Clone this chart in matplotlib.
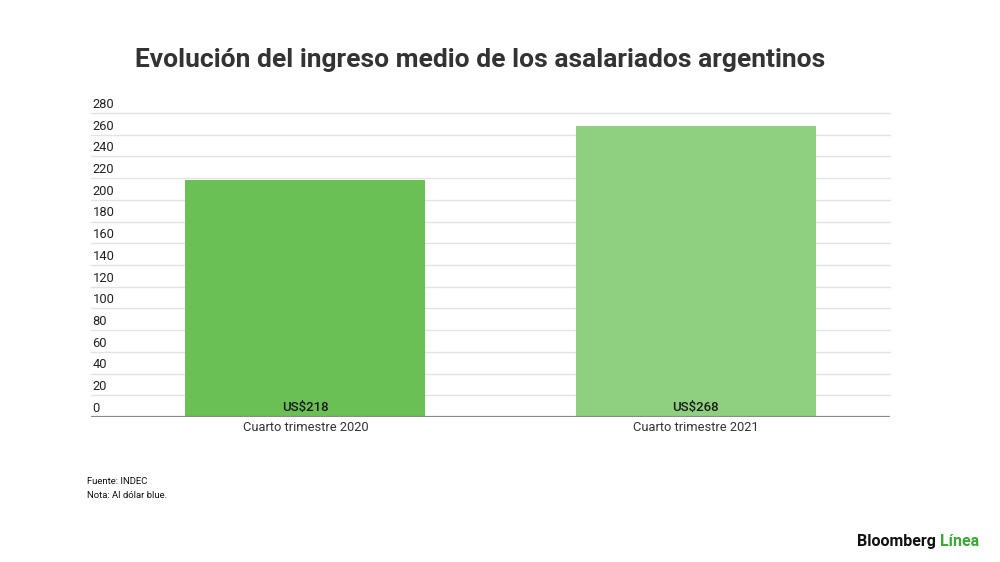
import matplotlib.pyplot as plt
import matplotlib.transforms as mtransforms

categorias = ['Cuarto trimestre 2020', 'Cuarto trimestre 2021']
ingreso = [218, 268]
etiquetas = ['US$218', 'US$268']
colores = ['#6abf55', '#8fcf80']
yticks = list(range(0, 281, 20))

plt.rcParams['font.family'] = ['Roboto', 'DejaVu Sans']

fig = plt.figure(figsize=(10, 5.62), dpi=100)
ax = fig.add_axes([0.091, 0.258, 0.799, 0.541])

x = list(range(len(categorias)))
ax.bar(x, ingreso, width=0.615, color=colores, zorder=2)
ax.set_xlim(-0.549, 1.497)
ax.set_ylim(0, 280)

# gridlines
for t in yticks[1:]:
    ax.axhline(t, color='#e3e3e3', lw=1, zorder=1, clip_on=False)
ax.axhline(0, color='#8a8a8a', lw=1.6, zorder=3)

# y labels sit above the gridlines
off = mtransforms.offset_copy(ax.get_yaxis_transform(), fig=fig, x=1, y=1.5, units='points')
for t in yticks:
    ax.text(0, t, str(t), transform=off, ha='left', va='bottom',
            fontsize=9.3, color='#222222')

ax.set_yticks([])
ax.set_xticks(x)
ax.set_xticklabels(categorias, fontsize=9.3, color='#333333')
ax.tick_params(axis='x', length=0, pad=3)
for s in ax.spines.values():
    s.set_visible(False)

# bar value labels
for xi, lab in zip(x, etiquetas):
    ax.annotate(lab, (xi, 0), xytext=(0, 2), textcoords='offset points',
                ha='center', va='bottom', fontsize=9.5, fontweight='medium',
                color='#1a1a1a', zorder=4)

fig.text(0.48, 0.894, 'Evolución del ingreso medio de los asalariados argentinos',
         ha='center', va='center', fontsize=19, fontweight='bold', color='#333333')

fig.text(0.087, 0.144, 'Fuente: INDEC', ha='left', va='center', fontsize=6.8,
         color='#111111', fontstretch='condensed')
fig.text(0.087, 0.119, 'Nota: Al dólar blue.', ha='left', va='center', fontsize=6.8,
         color='#111111', fontstretch='condensed')

fig.text(0.936, 0.037, 'Bloomberg', ha='right', va='center', fontsize=11.5,
         fontweight='bold', color='#111111')
fig.text(0.940, 0.037, 'Línea', ha='left', va='center', fontsize=11.5,
         fontweight='bold', color='#3aaa35')

fig.savefig('out.png', dpi=100, facecolor='white')
